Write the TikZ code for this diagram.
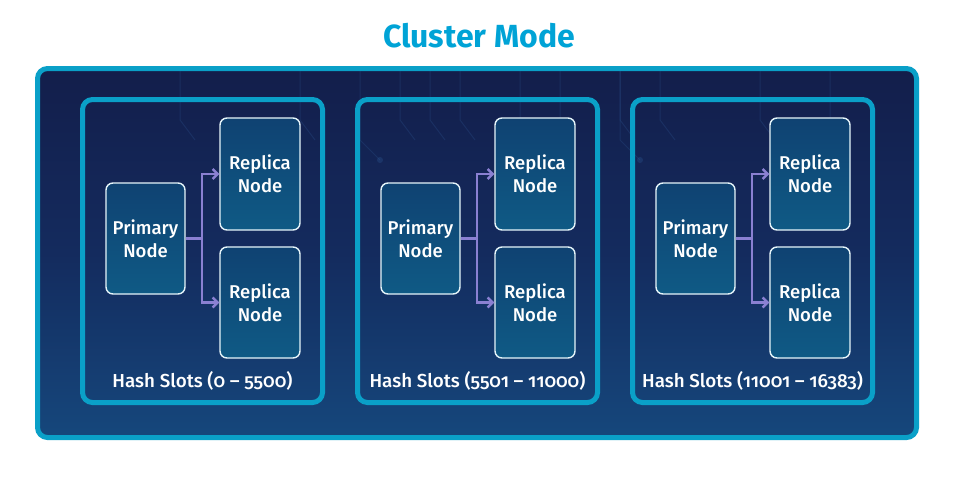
\documentclass[tikz,border=0pt]{standalone}
\usepackage{fontspec}
\setmainfont{Fira Sans}[Numbers=OldStyle, UprightFont={* Medium}, BoldFont={* Bold}]
\usetikzlibrary{arrows.meta}
\definecolor{cyanb}{HTML}{0AA0C8}
\definecolor{titlec}{HTML}{00A3D6}
\definecolor{navytop}{HTML}{131E4B}
\definecolor{navymid}{HTML}{142B5E}
\definecolor{navybot}{HTML}{15477C}
\definecolor{nodetop}{HTML}{0F4272}
\definecolor{nodebot}{HTML}{0F5A85}
\definecolor{arrowc}{HTML}{8A80D2}
\definecolor{circuit}{HTML}{3A6FB0}
\tikzset{
  outerbox/.style={draw=cyanb, line width=5pt, rounded corners=10pt},
  groupbox/.style={draw=cyanb, line width=5pt, rounded corners=10pt},
  dbnode/.style={draw=white!90!cyanb, line width=1.4pt, rounded corners=7pt,
    top color=nodetop, bottom color=nodebot, minimum width=79pt, minimum height=111pt,
    inner sep=0pt, align=center, text=white, font=\fontsize{18.5}{23}\selectfont},
  slotlabel/.style={text=white, font=\fontsize{18.8}{20}\selectfont},
  link/.style={draw=arrowc, line width=2.4pt},
  linkarrow/.style={link, -{Straight Barb[length=5pt,width=10pt,line width=2.4pt]}},
  trace/.style={draw=circuit, opacity=0.18, line width=1pt},
}
\begin{document}
\begin{tikzpicture}[x=1pt,y=-1pt]
\useasboundingbox (0,0) rectangle (958,479);
\node[text=titlec, font=\bfseries\fontsize{32}{36}\selectfont] (title) at (479,36) {Cluster Mode};
\path[outerbox, top color=navytop, bottom color=navybot, middle color=navymid] (37.5,68.5) rectangle (916.5,437.5);
% faint circuit traces
\foreach \x in {180,300,400,430,460,520,560,620,660,760,830}{
  \draw[trace] (\x,71) -- (\x,120) -- (\x+15,140);
}
\foreach \x in {380,640}{
  \fill[circuit, opacity=0.22] (\x,160) circle (3pt);
  \draw[trace] (\x,160) -- (\x-20,140) -- (\x-20,71);
}
\foreach \dx/\lab/\i in {0/{Hash Slots (0 – 5500)}/a, 275/{Hash Slots (5501 – 11000)}/b, 550/{Hash Slots (11001 – 16383)}/c}{
  \begin{scope}[xshift=\dx pt]
    \draw[groupbox] (82.5,99.5) rectangle (322.5,402.5);
    \node[dbnode] (p\i) at (145.5,238.5) {Primary\\Node};
    \node[dbnode, minimum width=80pt, minimum height=112pt] (r\i1) at (260,174) {Replica\\Node};
    \node[dbnode, minimum width=80pt, minimum height=111pt] (r\i2) at (260,302.5) {Replica\\Node};
    \draw[link] (p\i.east) -- ++(16,0) coordinate (j\i);
    \draw[linkarrow] (j\i) |- (r\i1.west);
    \draw[linkarrow] (j\i) |- (r\i2.west);
    \node[slotlabel] (s\i) at (202.5,381) {\lab};
  \end{scope}
}
\end{tikzpicture}
\end{document}
